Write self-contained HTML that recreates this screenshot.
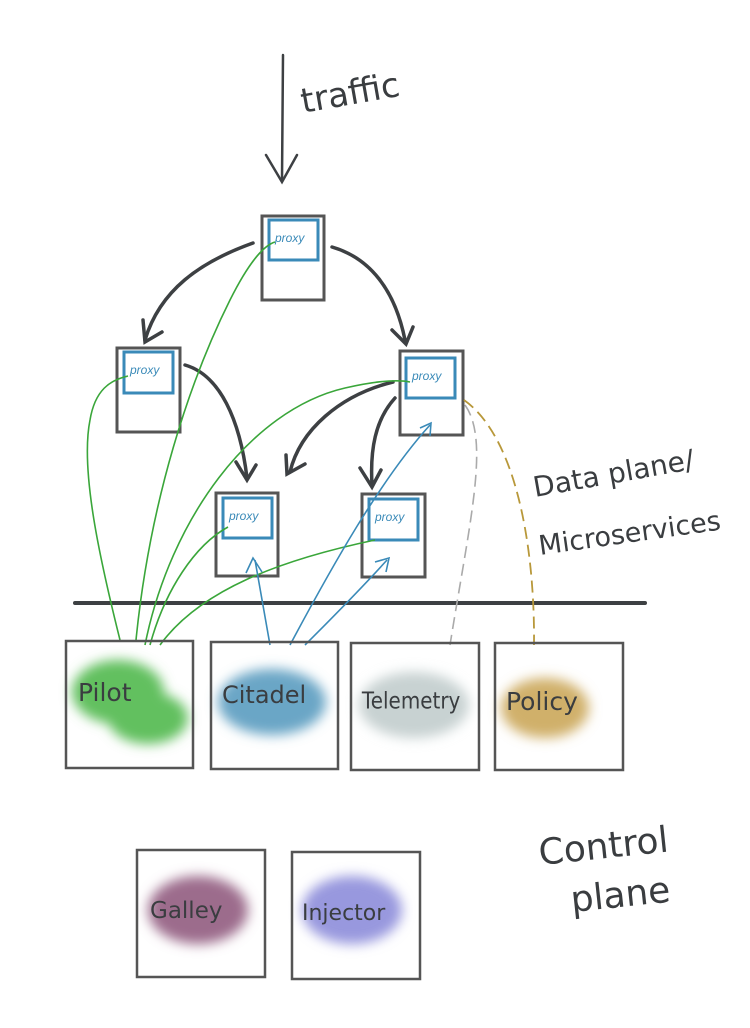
<!DOCTYPE html>
<html><head><style>
html,body{margin:0;padding:0;background:#fff;}
svg{display:block;}
.hand{font-family:"DejaVu Sans","Liberation Sans",sans-serif;fill:#3a3d40;}
</style></head><body>
<svg width="750" height="1028" viewBox="0 0 750 1028" xmlns="http://www.w3.org/2000/svg">
<defs>
<filter id="b" x="-30%" y="-30%" width="160%" height="160%"><feGaussianBlur stdDeviation="6"/></filter>
</defs>
<g stroke="#3d4043" fill="none" stroke-linecap="round">
<path d="M283 55 L282 180" stroke-width="2.5"/>
<path d="M266 155 L282 182 L297 155" stroke-width="2.5"/>
<path d="M253 243 C200 262 160 290 145 340" stroke-width="3.5"/>
<path d="M143 320 L145 342 L162 332" stroke-width="3.5"/>
<path d="M332 247 C370 258 395 290 405 340" stroke-width="3.5"/>
<path d="M392 330 L406 344 L413 327" stroke-width="3.5"/>
<path d="M185 365 C220 375 240 420 247 478" stroke-width="3.5"/>
<path d="M236 462 L247 480 L256 465" stroke-width="3.5"/>
<path d="M393 382 C340 395 300 430 290 472" stroke-width="3.5"/>
<path d="M286 455 L287 474 L305 464" stroke-width="3.5"/>
<path d="M395 398 C375 420 370 450 372 485" stroke-width="3.5"/>
<path d="M360 468 L372 487 L381 470" stroke-width="3.5"/>
<path d="M75 603 L645 603" stroke-width="4"/>
</g>
<g fill="#fff" stroke="#555" stroke-width="3">
<rect x="262" y="216" width="62" height="84"/>
<rect x="117" y="348" width="63" height="84"/>
<rect x="400" y="351" width="63" height="84"/>
<rect x="216" y="493" width="62" height="83"/>
<rect x="362" y="494" width="63" height="83"/>
</g>
<g fill="none" stroke="#3a8ab8" stroke-width="3">
<rect x="269" y="220" width="49" height="40"/>
<rect x="124" y="352" width="49" height="41"/>
<rect x="406" y="358" width="49" height="40"/>
<rect x="223" y="498" width="49" height="40"/>
<rect x="369" y="499" width="49" height="41"/>
</g>
<g font-family="Liberation Sans,sans-serif" font-size="12" fill="#3a8ab8" font-style="italic">
<text x="275" y="242">proxy</text>
<text x="130" y="374">proxy</text>
<text x="412" y="380">proxy</text>
<text x="229" y="520">proxy</text>
<text x="375" y="521">proxy</text>
</g>
<g stroke="#3aa63a" stroke-width="1.6" fill="none">
<path d="M120 640 C100 560 80 470 90 420 C95 390 110 380 128 376"/>
<path d="M136 640 C150 500 190 380 230 300 C250 260 265 245 275 242"/>
<path d="M145 645 C170 520 250 410 345 388 C380 380 400 380 410 382"/>
<path d="M150 645 C165 590 195 545 228 527"/>
<path d="M160 645 C200 590 280 560 375 540"/>
</g>
<g stroke="#3a8ab8" stroke-width="1.6" fill="none">
<path d="M270 645 L255 560"/><path d="M246 573 L253 558 L262 572"/>
<path d="M290 645 C330 570 380 480 430 425"/><path d="M420 428 L431 423 L430 436"/>
<path d="M305 645 C330 620 360 590 387 560"/><path d="M375 562 L389 558 L386 572"/>
</g>
<path d="M465 405 C490 440 470 520 450 645" stroke="#aaa" stroke-width="1.6" fill="none" stroke-dasharray="12 6"/>
<path d="M464 400 C520 440 535 560 534 645" stroke="#b8983a" stroke-width="1.8" fill="none" stroke-dasharray="12 6"/>
<g filter="url(#b)">
<ellipse cx="118" cy="692" rx="46" ry="32" fill="#62c05e"/>
<ellipse cx="148" cy="718" rx="40" ry="26" fill="#62c05e"/>
<ellipse cx="272" cy="702" rx="54" ry="33" fill="#6aa6c6"/>
<ellipse cx="414" cy="705" rx="55" ry="33" fill="#c8d2d2"/>
<ellipse cx="545" cy="708" rx="44" ry="30" fill="#d0b06a"/>
<ellipse cx="198" cy="910" rx="50" ry="34" fill="#9c6c8c"/>
<ellipse cx="352" cy="910" rx="50" ry="34" fill="#9898de"/>
</g>
<g fill="none" stroke="#555" stroke-width="2.5">
<rect x="66" y="641" width="127" height="127"/>
<rect x="211" y="642" width="127" height="127"/>
<rect x="351" y="643" width="128" height="127"/>
<rect x="495" y="643" width="128" height="127"/>
<rect x="137" y="850" width="128" height="127"/>
<rect x="292" y="852" width="128" height="127"/>
</g>
<g class="hand" font-size="25">
<text x="78" y="701">Pilot</text>
<text x="222" y="703" font-size="24">Citadel</text>
<text x="361" y="708" font-size="21" transform="scale(0.95 1.1) translate(20 -64)">Telemetry</text>
<text x="506" y="710">Policy</text>
<text x="150" y="918" font-size="23">Galley</text>
<text x="302" y="920" font-size="22">Injector</text>
</g>
<g class="hand" font-size="34">
<text x="303" y="113" transform="rotate(-10 303 113)">traffic</text>
<text x="535" y="497" font-size="28" transform="rotate(-10 535 497)">Data plane/</text>
<text x="540" y="555" font-size="27" transform="rotate(-8 540 555)">Microservices</text>
<text x="540" y="865" font-size="36" transform="rotate(-6 540 865)">Control</text>
<text x="572" y="912" font-size="36" transform="rotate(-6 572 912)">plane</text>
</g>
</svg>
</body></html>
